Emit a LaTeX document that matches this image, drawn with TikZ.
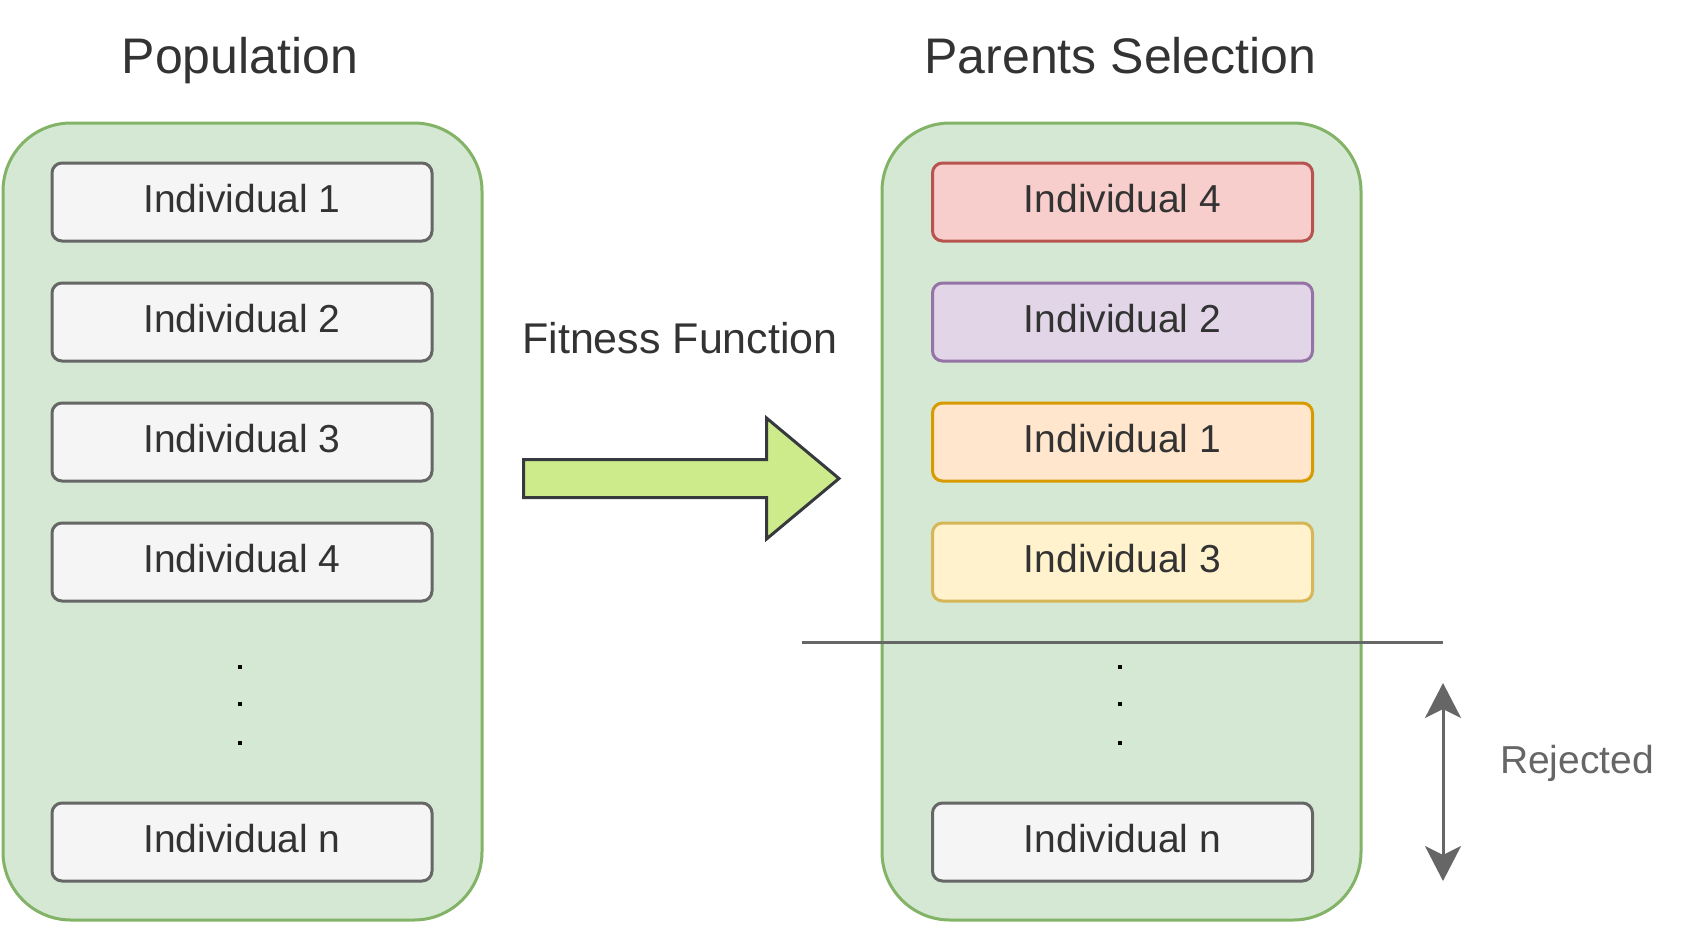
\documentclass[tikz,border=0pt]{standalone}
\usepackage{fontspec}
\setmainfont{Liberation Sans}
\usetikzlibrary{arrows.meta}
\definecolor{contfill}{HTML}{D5E8D4}
\definecolor{contdraw}{HTML}{82B366}
\definecolor{grayfill}{HTML}{F5F5F5}
\definecolor{graydraw}{HTML}{666666}
\definecolor{txt}{HTML}{333333}
\definecolor{redfill}{HTML}{F8CECC}
\definecolor{reddraw}{HTML}{B85450}
\definecolor{purfill}{HTML}{E1D5E7}
\definecolor{purdraw}{HTML}{9673A6}
\definecolor{orafill}{HTML}{FFE6CC}
\definecolor{oradraw}{HTML}{D79B00}
\definecolor{yelfill}{HTML}{FFF2CC}
\definecolor{yeldraw}{HTML}{D6B656}
\definecolor{arrfill}{HTML}{CDEB8B}
\definecolor{arrdraw}{HTML}{36393D}
\begin{document}
\begin{tikzpicture}[x=1pt,y=-1pt,
  container/.style={draw=contdraw,fill=contfill,line width=3pt,rounded corners=68pt,
    minimum width=479pt,minimum height=797pt,inner sep=0pt},
  indiv/.style={draw=graydraw,fill=grayfill,line width=3pt,rounded corners=10pt,
    minimum width=380pt,minimum height=78pt,inner sep=0pt,text=txt,
    font=\fontsize{39}{46}\selectfont,text height=20pt,text depth=0pt},
  redbox/.style={indiv,draw=reddraw,fill=redfill},
  purbox/.style={indiv,draw=purdraw,fill=purfill},
  orabox/.style={indiv,draw=oradraw,fill=orafill},
  yelbox/.style={indiv,draw=yeldraw,fill=yelfill},
  titletext/.style={anchor=base,text=txt,font=\fontsize{50}{60}\selectfont,inner sep=0pt},
  fittext/.style={anchor=base,text=txt,font=\fontsize{43}{52}\selectfont,inner sep=0pt},
  rejtext/.style={anchor=base,text=graydraw,font=\fontsize{39}{46}\selectfont,inner sep=0pt},
  fitarrow/.style={draw=arrdraw,fill=arrfill,line width=3pt,line join=miter},
  cutline/.style={draw=graydraw,line width=3pt},
  rejarrow/.style={draw=graydraw,line width=3pt,
    {Stealth[length=35pt,width=36pt,inset=9pt]}-{Stealth[length=35pt,width=36pt,inset=9pt]}},
  dotmark/.style={fill=black}
]
\useasboundingbox (0,0) rectangle (1700,924);

% containers
\node[container] (pop) at (242.5,521.5) {};
\node[container] (par) at (1121.5,521.5) {};

% titles
\node[titletext] (poptitle) at (240,73) {Population};
\node[titletext] (partitle) at (1120.5,73) {Parents Selection};

% population individuals
\node[indiv] (p1) at (242,202) {Individual 1};
\node[indiv] (p2) at (242,322) {Individual 2};
\node[indiv] (p3) at (242,442) {Individual 3};
\node[indiv] (p4) at (242,562) {Individual 4};
\node[indiv] (pn) at (242,842) {Individual n};

% selected individuals
\node[redbox] (s4) at (1122.5,202) {Individual 4};
\node[purbox] (s2) at (1122.5,322) {Individual 2};
\node[orabox] (s1) at (1122.5,442) {Individual 1};
\node[yelbox] (s3) at (1122.5,562) {Individual 3};
\node[indiv] (sn) at (1122.5,842) {Individual n};

% dots
\foreach \yy in {667,704,743}{
  \fill[dotmark] (238,\yy-2) rectangle (242,\yy+2);
  \fill[dotmark] (1118,\yy-2) rectangle (1122,\yy+2);
}

% fitness arrow
\draw[fitarrow] (523.5,459.5) -- (766.5,459.5) -- (766.5,418) -- (839,478.5)
  -- (766.5,539) -- (766.5,497.5) -- (523.5,497.5) -- cycle;
\node[fittext] (fit) at (680,353) {Fitness Function};

% cut line
\coordinate (cutL) at (802,642);
\coordinate (cutR) at (1443,642);
\draw[cutline] (cutL) -- (cutR);

% rejected arrow
\coordinate (rejT) at (1443,683);
\coordinate (rejB) at (1443,881);
\draw[rejarrow] (rejT) -- (rejB);
\node[rejtext] (rej) at (1577,773) {Rejected};
\end{tikzpicture}
\end{document}
